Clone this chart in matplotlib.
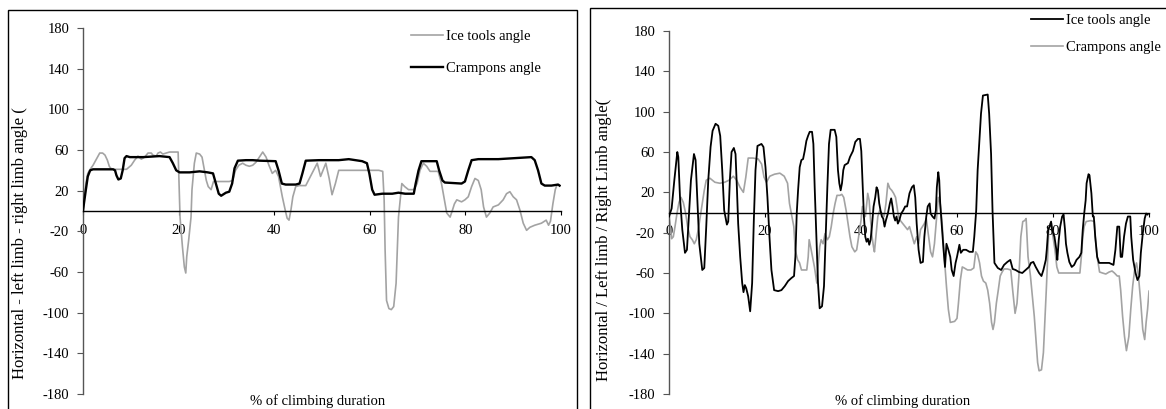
import matplotlib
matplotlib.use("Agg")
import matplotlib.pyplot as plt
from matplotlib.patches import Rectangle
from matplotlib.lines import Line2D

plt.rcParams['font.family'] = ['Liberation Serif', 'DejaVu Serif']

# ---------------- data ----------------
# Left panel: Ice tools angle (grey)
left_ice_x = [0, 0.2, 0.6, 1.0, 1.5, 2.1, 2.8, 3.5, 4.1, 4.6, 5.1, 5.5, 5.8, 6.3, 7.4, 8.4, 9.1,
              10.1, 10.8, 11.5, 12.2, 12.9, 13.6, 14.3, 14.6, 15.3, 15.7, 16.2, 16.7, 17.4, 18.1,
              19.2, 19.9, 20.1, 20.3, 20.8, 21.2, 21.5, 21.7, 22.1, 22.6, 22.8, 23.3, 23.7, 24.4,
              24.9, 25.4, 25.8, 26.2, 26.8, 27.3, 27.8, 29.2, 30.6, 31.3, 31.9, 32.6, 33.4, 34.1,
              34.8, 35.5, 36.2, 36.9, 37.6, 38.3, 38.9, 39.6, 40.3, 40.9, 41.3, 41.7, 42.3, 42.7,
              43.1, 43.5, 43.9, 44.5, 45.2, 46.6, 47.9, 49.0, 49.7, 50.8, 51.5, 52.1, 52.8, 53.5,
              55.6, 57.0, 59.1, 61.9, 62.7, 63.0, 63.2, 63.5, 64.0, 64.5, 65.0, 65.5, 66.0, 66.7,
              67.3, 68.1, 69.2, 69.9, 70.5, 71.2, 71.9, 72.6, 74.3, 75.0, 75.6, 76.1, 76.8, 77.3,
              77.7, 78.2, 79.2, 79.9, 80.6, 81.3, 82.0, 82.7, 83.3, 83.8, 84.4, 85.1, 85.8, 86.9,
              87.9, 88.6, 89.3, 90.0, 90.7, 91.4, 92.1, 92.8, 93.5, 94.5, 95.9, 96.9, 97.4, 97.8,
              98.3, 98.8, 99.2, 99.7]
left_ice_y = [0, 11, 27, 37, 41, 45, 51, 57, 57, 55, 50, 44, 42, 41, 41, 41, 41,
              45, 50, 54, 51, 53, 57, 57, 55, 54, 57, 58, 56, 57, 58,
              58, 58, 27, -6, -35, -55, -61, -45, -29, -6, 21, 47, 57, 56,
              53, 40, 30, 24, 21, 29, 29, 29, 29, 30, 40, 45, 47, 45,
              44, 45, 48, 53, 58, 53, 45, 37, 40, 34, 24, 14, 1, -7,
              -9, 1, 14, 24, 25, 25, 37, 47, 34, 47, 32, 16, 27, 40,
              40, 40, 40, 40, 39, 11, -38, -88, -96, -97, -94, -71, -6, 27,
              24, 21, 21, 27, 40, 47, 44, 39, 39, 27, 11, -2, -6, 1,
              7, 11, 9, 11, 14, 24, 32, 30, 21, 4, -6, -2, 4, 6,
              11, 17, 19, 14, 11, 1, -12, -19, -16, -14, -12, -9, -14, -10,
              7, 21, 26, 25]

# Left panel: Crampons angle (black)
left_cramp_x = [0, 0.2, 0.6, 1.0, 1.5, 2.1, 4.2, 6.3, 6.7, 7.0, 7.4, 7.9, 8.3, 8.7, 9.1, 9.8,
                12.6, 16.0, 18.1, 18.8, 19.5, 20.2, 22.3, 24.4, 26.1, 27.2, 27.8, 28.4, 28.9,
                29.9, 30.6, 31.2, 31.7, 32.4, 34.1, 35.5, 36.9, 40.3, 40.9, 41.6, 42.4, 44.5,
                45.3, 45.9, 46.6, 49.4, 53.5, 55.6, 58.4, 59.4, 59.9, 60.5, 61.0, 62.6, 64.7,
                66.0, 67.4, 69.2, 69.6, 70.2, 70.8, 72.3, 74.0, 74.5, 75.2, 75.7, 79.2, 79.9,
                80.6, 81.3, 82.7, 86.9, 93.8, 94.5, 95.2, 95.9, 96.6, 98.0, 99.4, 99.7]
left_cramp_y = [0, 7.5, 21, 34, 40, 41, 41, 41, 40, 35, 31, 32, 40, 52, 54, 53,
                53, 54, 53, 47, 40, 38, 38, 39, 38, 37, 27, 17, 15,
                18, 19, 27, 42, 49.5, 50, 50, 49.5, 49, 40, 27, 26, 26,
                27, 37, 49.5, 50, 50, 51, 49, 47, 37, 21, 16, 17, 17,
                18, 17, 17, 27, 40, 49, 49, 49, 40, 30, 28, 27, 29,
                40, 50, 51, 51, 53, 50, 40, 27, 25, 25, 26, 25]

# Right panel: Ice tools angle (black)
right_ice_x = [0, 0.55, 1.11, 1.73, 1.94, 2.29, 2.77, 3.33, 3.74, 4.02, 4.57, 5.20, 5.54, 5.89,
               6.31, 6.93, 7.35, 7.76, 8.18, 8.66, 9.08, 9.70, 10.26, 10.67, 11.09, 11.50,
               12.06, 12.34, 12.68, 13.03, 13.51, 13.86, 14.14, 14.41, 14.83, 15.25, 15.52,
               15.80, 16.08, 16.49, 16.91, 17.32, 17.67, 18.02, 18.43, 19.26, 19.68, 20.10,
               20.51, 20.93, 21.34, 21.90, 22.73, 23.42, 24.12, 24.81, 25.50, 26.05, 26.33,
               26.61, 26.89, 27.23, 27.58, 27.93, 28.27, 28.62, 28.97, 29.31, 29.80, 30.08,
               30.35, 30.70, 31.04, 31.39, 31.88, 32.29, 32.64, 32.99, 33.33, 33.68, 34.51,
               34.86, 35.20, 35.48, 35.76, 36.04, 36.31, 36.59, 37.28, 37.70, 38.32, 38.81,
               39.36, 39.78, 40.06, 40.33, 40.61, 40.89, 41.16, 41.44, 41.72, 42.00, 42.27,
               42.62, 42.97, 43.24, 43.52, 43.80, 44.07, 44.35, 44.63, 44.91, 45.18, 45.60,
               46.01, 46.29, 46.57, 46.85, 47.12, 47.40, 47.68, 47.96, 48.37, 48.79, 49.20,
               49.6, 50.1, 50.6, 51.0, 51.3, 51.6, 52.0, 52.4, 52.9, 53.2, 53.6, 53.9, 54.3,
               54.5, 54.9, 55.3, 55.6, 55.8, 56.1, 56.3, 56.5, 56.8, 57.2, 57.5, 57.8, 58.2,
               58.6, 58.9, 59.3, 59.7, 60.0, 60.5, 60.8, 61.3, 61.9, 62.6, 63.3, 63.6, 64.0,
               64.3, 64.7, 65.0, 65.4, 66.4, 66.7, 67.1, 67.4, 67.8, 68.5, 69.2, 69.8, 70.5,
               71.1, 71.6, 72.2, 72.9, 73.6, 74.3, 75.0, 75.4, 75.9, 76.4, 77.1, 77.6, 78.0,
               78.5, 78.7, 79.0, 79.3, 79.6, 79.8, 80.3, 80.7, 80.9, 81.2, 81.5, 81.9, 82.2,
               82.5, 82.7, 83.0, 83.4, 83.9, 84.4, 84.9, 85.5, 85.9, 86.2, 86.5, 86.8, 87.0,
               87.4, 87.6, 88.0, 88.3, 88.5, 88.8, 89.2, 89.6, 90.6, 91.7, 92.6, 93.0, 93.4,
               93.8, 94.1, 94.4, 94.8, 95.2, 95.6, 96.1, 96.3, 96.7, 97.2, 97.6, 98.0, 98.3,
               98.7, 99.1, 99.4, 99.7]
right_ice_y = [-4, 4, 32, 60, 55, 15, -17, -40, -37, -14, 32, 58, 52, 15,
               -31, -57, -55, -14, 32, 65, 81, 88, 86, 76, 42, 2,
               -12, -9, 32, 60, 64, 58, 25, -11, -44, -70, -79,
               -72, -75, -83, -98, -70, -8, 42, 66, 68, 65, 45,
               15, -24, -57, -77, -78, -77, -73, -68, -65, -63, -44,
               -1, 22, 45, 52, 53, 61, 71, 76, 80, 80, 68,
               25, -24, -70, -95, -93, -73, -24, 25, 68, 82, 82,
               75, 42, 29, 22, 29, 42, 47, 49, 55, 61, 70,
               73, 73, 61, 29, -4, -24, -29, -26, -32, -27, -14,
               6, 15, 25, 22, 9, 2, -4, -6, -14, -8, -1,
               9, 14, 6, -4, -8, -4, -11, -8, -1, 2, 6,
               6, 19, 25, 27, 15, -11, -37, -50, -49, -24, -4, 6, 9,
               -1, -4, -6, 2, 25, 40, 32, 9, -11, -37, -54, -31, -37,
               -44, -57, -63, -50, -44, -32, -40, -37, -37, -39, -39, -24, 2,
               42, 75, 98, 116, 117, 98, 58, 2, -50, -55, -57, -52, -49,
               -47, -56, -57, -59, -60, -57, -54, -50, -49, -54, -60, -63, -57,
               -47, -37, -17, -14, -9, -17, -24, -37, -47, -27, -14, -4, -2,
               -17, -31, -40, -49, -54, -52, -47, -44, -40, -17, -1, 12, 29,
               38, 37, 19, -4, -4, -24, -44, -50, -50, -50, -52, -37, -14,
               -14, -44, -44, -24, -11, -4, -4, -24, -47, -60, -67, -63, -40,
               -21, -6, -1, -2]

# Right panel: Crampons angle (grey)
right_cramp_x = [0, 0.28, 0.55, 0.9, 1.25, 1.66, 2.08, 2.5, 2.98, 3.47, 3.88, 4.37, 4.85, 5.27,
                 5.68, 6.1, 6.52, 6.93, 7.35, 7.76, 8.52, 9.56, 10.6, 11.6, 12.5, 13.4, 14.1,
                 14.8, 15.5, 16.0, 16.5, 17.5, 18.6, 19.3, 19.8, 20.3, 21.0, 22.0, 23.1, 24.0,
                 24.7, 25.1, 25.5, 26.0, 26.3, 26.8, 27.2, 27.6, 28.1, 28.7, 29.0, 29.2, 29.5,
                 29.9, 30.3, 30.8, 31.0, 31.4, 31.7, 32.1, 32.5, 33.0, 33.4, 33.8, 34.2, 34.6,
                 35.0, 35.6, 36.0, 36.4, 36.9, 37.3, 37.7, 38.1, 38.7, 39.1, 39.5, 40.0, 40.3,
                 40.6, 40.9, 41.2, 41.4, 41.7, 42.0, 42.3, 42.6, 42.8, 43.1, 43.5, 43.9, 44.4,
                 44.8, 45.2, 45.6, 46.0, 46.4, 46.8, 47.2, 47.5, 47.8, 48.2, 48.7, 49.2, 49.7,
                 50.1, 50.7, 51.1, 51.6, 52.0, 52.4, 52.8, 53.2, 53.6, 54.1, 54.5, 54.9, 55.3,
                 55.7, 56.1, 56.5, 56.9, 57.4, 57.8, 58.2, 58.6, 59.5, 60.0, 60.3, 60.7, 61.1,
                 61.5, 62.2, 62.9, 63.5, 63.9, 64.3, 64.7, 65.1, 65.5, 66.0, 66.4, 66.8, 67.2,
                 67.5, 67.8, 68.2, 68.6, 69.0, 69.4, 69.8, 70.5, 71.2, 71.6, 72.1, 72.5, 72.9,
                 73.3, 73.7, 74.1, 74.4, 74.8, 75.3, 75.7, 76.1, 76.5, 76.8, 77.1, 77.6, 78.0,
                 78.3, 78.6, 78.9, 79.1, 79.4, 79.7, 80.0, 80.4, 80.8, 81.2, 83.0, 84.4, 85.6,
                 85.9, 86.2, 86.5, 86.9, 87.9, 88.6, 88.8, 89.2, 89.7, 90.3, 91.0, 91.7, 92.3,
                 92.8, 93.4, 93.8, 94.1, 94.5, 94.9, 95.3, 95.8, 96.2, 96.6, 97.0, 97.4, 97.8,
                 98.3, 98.7, 99.1, 99.4, 99.7, 100.0]
right_cramp_y = [-4, -14, -26, -24, -14, -1, 10, 15, 10, -1, -14, -24, -27, -31,
                 -27, -17, -4, 9, 22, 32, 34, 30, 29, 30, 32, 36, 32,
                 25, 20, 35, 54, 54, 53, 48, 35, 30, 36, 38, 39, 36,
                 29, 9, -1, -14, -37, -47, -50, -57, -57, -57, -44, -27, -34,
                 -44, -54, -70, -57, -34, -27, -31, -21, -27, -24, -14, -1, 9,
                 17, 17, 18, 15, 2, -11, -24, -34, -39, -37, -24, -8, 6,
                 -1, -4, 9, 19, 12, -8, -24, -34, -39, -24, -4, 2, -1,
                 -4, 9, 29, 24, 22, 19, 15, 6, -4, -8, -11, -14, -17,
                 -14, -24, -31, -24, -31, -17, -14, -11, -6, -24, -39, -44, -31,
                 -8, 15, 9, -11, -47, -73, -96, -109, -108, -105, -90, -67, -54,
                 -55, -57, -57, -55, -39, -42, -50, -63, -68, -70, -77, -90, -109,
                 -116, -109, -90, -77, -63, -59, -56, -56, -57, -77, -100, -90, -63,
                 -24, -9, -8, -6, -44, -63, -83, -103, -129, -149, -157, -156, -139,
                 -109, -77, -44, -17, -11, -11, -24, -37, -54, -60, -60, -60, -60,
                 -44, -24, -14, -9, -8, -9, -24, -44, -59, -60, -61, -59, -58,
                 -60, -63, -63, -77, -103, -123, -137, -123, -96, -73, -57, -50, -63,
                 -90, -116, -126, -109, -96, -78]

x_ticks = [0, 20, 40, 60, 80, 100]
y_ticks = [-180, -140, -100, -60, -20, 20, 60, 100, 140, 180]

GREY = '#a3a3a3'
BLACK = '#000000'
W, H = 1166, 409

fig = plt.figure(figsize=(W / 100, H / 100), dpi=100)


def fx(px):
    return px / W


def fy(py):
    return (H - py) / H


# outer frames (cut off by the image edges like the reference)
fig.add_artist(Rectangle((fx(8), fy(430)), fx(577) - fx(8), fy(10) - fy(430),
                         transform=fig.transFigure, fill=False, lw=1.0, ec='black'))
fig.add_artist(Rectangle((fx(590), fy(430)), fx(1200) - fx(590), fy(8) - fy(430),
                         transform=fig.transFigure, fill=False, lw=1.0, ec='black'))


def make_axes(x0, x1, ytop, ybot):
    ax = fig.add_axes([fx(x0), fy(ybot), fx(x1) - fx(x0), fy(ytop) - fy(ybot)])
    ax.set_xlim(0, 100)
    ax.set_ylim(-180, 180)
    ax.patch.set_alpha(0)
    for s in ['top', 'right']:
        ax.spines[s].set_visible(False)
    ax.spines['bottom'].set_position(('data', 0))
    ax.spines['bottom'].set_linewidth(1.0)
    ax.spines['left'].set_linewidth(1.0)
    ax.spines['left'].set_color('#555555')
    ax.set_xticks(x_ticks)
    ax.set_yticks(y_ticks)
    ax.set_xticklabels([str(t) for t in x_ticks])
    ax.set_yticklabels([str(t) for t in y_ticks])
    ax.tick_params(axis='x', direction='out', length=3, width=0.8, pad=6, labelsize=10.5)
    ax.tick_params(axis='y', direction='out', length=4, width=0.8, pad=6, labelsize=10.5,
                   color='#555555')
    return ax


# ---- left panel
axL = make_axes(83, 561, 28, 394)
axL.plot(left_ice_x, left_ice_y, color=GREY, lw=1.2, zorder=2)
axL.plot(left_cramp_x, left_cramp_y, color=BLACK, lw=1.7, zorder=3)
axL.legend(handles=[Line2D([], [], color=GREY, lw=1.2), Line2D([], [], color=BLACK, lw=1.7)],
           labels=['Ice tools angle', 'Crampons angle'],
           loc='upper left', bbox_to_anchor=(fx(411), fy(30)), bbox_transform=fig.transFigure,
           frameon=False, fontsize=10.5, handlelength=2.2, handletextpad=0.2,
           labelspacing=1.25, borderpad=0, borderaxespad=0)
fig.text(fx(20), fy(243), 'Horizontal - left limb - right limb angle (', rotation=90,
         ha='center', va='center', fontsize=12)
fig.text(fx(318), fy(401), '% of climbing duration', ha='center', va='center', fontsize=10.5)

# ---- right panel
axR = make_axes(669, 1149, 31, 394)
axR.plot(right_cramp_x, right_cramp_y, color=GREY, lw=1.2, zorder=2)
axR.plot(right_ice_x, right_ice_y, color=BLACK, lw=1.3, zorder=3)
axR.legend(handles=[Line2D([], [], color=BLACK, lw=1.3), Line2D([], [], color=GREY, lw=1.2)],
           labels=['Ice tools angle', 'Crampons angle'],
           loc='upper left', bbox_to_anchor=(fx(1031), fy(14)), bbox_transform=fig.transFigure,
           frameon=False, fontsize=10.5, handlelength=2.2, handletextpad=0.2,
           labelspacing=0.95, borderpad=0, borderaxespad=0)
fig.text(fx(604), fy(240), 'Horizontal / Left limb / Right Limb angle(', rotation=90,
         ha='center', va='center', fontsize=12)
fig.text(fx(903), fy(401), '% of climbing duration', ha='center', va='center', fontsize=10.5)

fig.savefig('out.png', dpi=100)
